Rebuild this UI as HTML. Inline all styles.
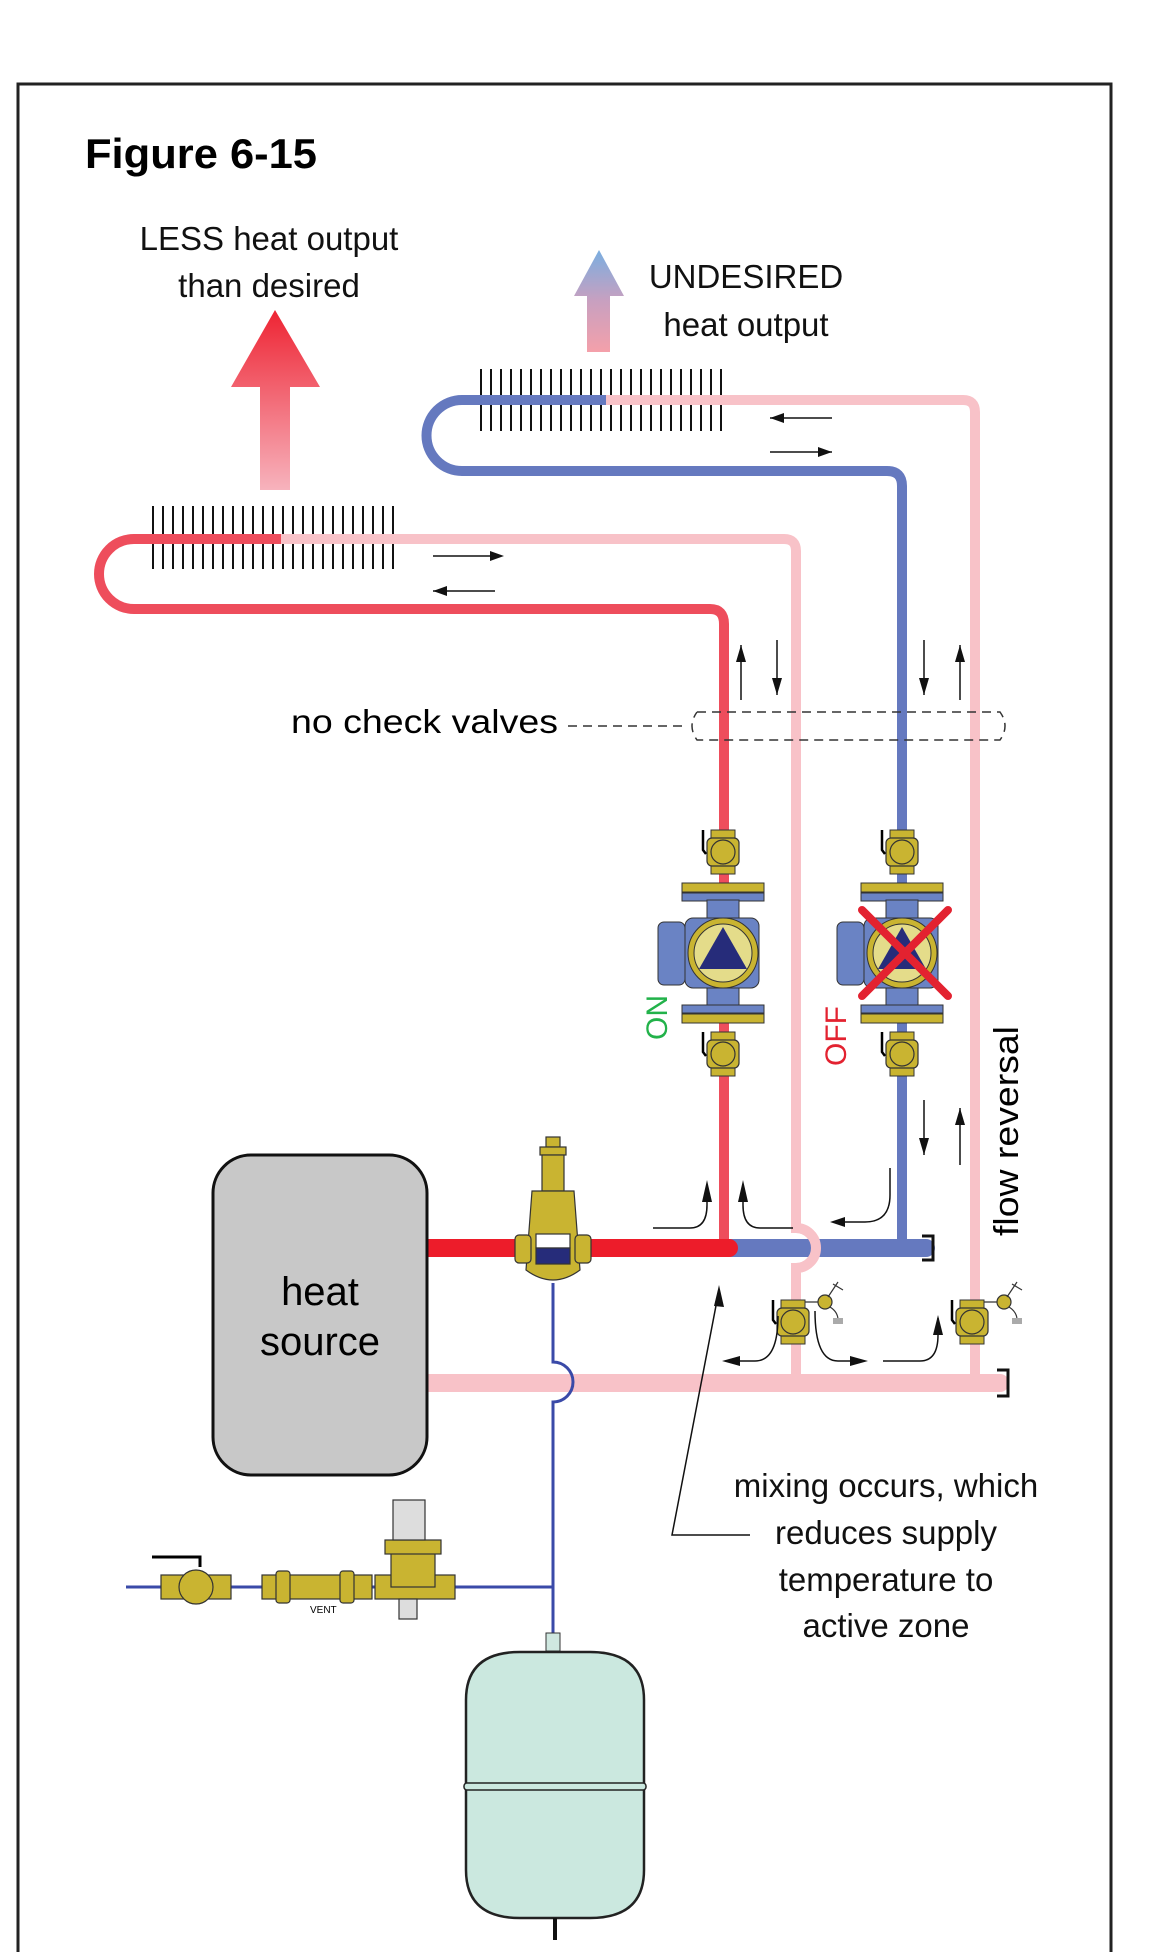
<!DOCTYPE html>
<html><head><meta charset="utf-8"><style>
html,body{margin:0;padding:0;background:#fff}
svg{display:block}
text{font-family:"Liberation Sans",sans-serif}
</style></head><body>
<svg width="1170" height="1952" viewBox="0 0 1170 1952" xmlns="http://www.w3.org/2000/svg">
<defs>
<linearGradient id="gr" x1="0" y1="0" x2="0" y2="1"><stop offset="0" stop-color="#ee2433"/><stop offset="1" stop-color="#f7b3bd"/></linearGradient>
<linearGradient id="gb" x1="0" y1="0" x2="0" y2="1"><stop offset="0" stop-color="#7aaee0"/><stop offset="0.5" stop-color="#c8a0c0"/><stop offset="1" stop-color="#f4a0aa"/></linearGradient>
<g id="bv"><rect x="-12" y="-22" width="24" height="10" fill="#c9b431" stroke="#333" stroke-width="1"/><rect x="-12" y="12" width="24" height="10" fill="#c9b431" stroke="#333" stroke-width="1"/><rect x="-16" y="-14" width="32" height="28" rx="5" fill="#c9b431" stroke="#333" stroke-width="1.2"/><circle r="12" fill="#c9b431" stroke="#333" stroke-width="1.2"/><path d="M-20,-22 V-2 L-17,2" fill="none" stroke="#000" stroke-width="2.5"/></g>
<g id="pump">
<use href="#bv" y="-101"/>
<use href="#bv" y="101"/>
<rect x="-41" y="-70" width="82" height="9" fill="#c9b431" stroke="#333"/>
<rect x="-41" y="-60" width="82" height="8" fill="#6a83c4" stroke="#333"/>
<rect x="-16" y="-53" width="32" height="20" fill="#6a83c4" stroke="#333"/>
<rect x="-16" y="33" width="32" height="20" fill="#6a83c4" stroke="#333"/>
<rect x="-41" y="52" width="82" height="8" fill="#6a83c4" stroke="#333"/>
<rect x="-41" y="61" width="82" height="9" fill="#c9b431" stroke="#333"/>
<rect x="-65" y="-31" width="27" height="63" rx="6" fill="#6a83c4" stroke="#333"/>
<rect x="-38" y="-35" width="74" height="70" rx="8" fill="#6a83c4" stroke="#333"/>
<circle r="35" fill="#c9b431" stroke="#333"/>
<circle r="29" fill="#e4dc8a" stroke="#333"/>
<path d="M0,-26 L24,16 H-24 Z" fill="#262c7a"/>
</g>
</defs>
<rect x="0" y="0" width="1170" height="1952" fill="#fff"/>
<path d="M18,1952 V84 H1111 V1952" fill="none" stroke="#222" stroke-width="3"/>
<text x="85" y="168" font-size="42" font-weight="bold" textLength="232" lengthAdjust="spacingAndGlyphs">Figure 6-15</text>
<g font-size="33" text-anchor="middle" fill="#111">
<text x="269" y="250">LESS heat output</text>
<text x="269" y="297">than desired</text>
<text x="746" y="288">UNDESIRED</text>
<text x="746" y="336">heat output</text>
<text x="886" y="1497">mixing occurs, which</text>
<text x="886" y="1544">reduces supply</text>
<text x="886" y="1591">temperature to</text>
<text x="886" y="1637">active zone</text>
</g>
<text x="291" y="733" font-size="33" textLength="267" lengthAdjust="spacingAndGlyphs">no check valves</text>
<path d="M275,310 L320,387 H290 V490 H260 V387 H231 Z" fill="url(#gr)"/>
<path d="M599,250 L624,296 H610 V352 H587 V296 H574 Z" fill="url(#gb)"/>
<g stroke="#111" stroke-width="2">
<path d="M481,369 V431 M491,369 V431 M501,369 V431 M511,369 V431 M521,369 V431 M531,369 V431 M541,369 V431 M551,369 V431 M561,369 V431 M571,369 V431 M581,369 V431 M591,369 V431 M601,369 V431 M611,369 V431 M621,369 V431 M631,369 V431 M641,369 V431 M651,369 V431 M661,369 V431 M671,369 V431 M681,369 V431 M691,369 V431 M701,369 V431 M711,369 V431 M721,369 V431"/>
<path d="M153,506 V569 M163,506 V569 M173,506 V569 M183,506 V569 M193,506 V569 M203,506 V569 M213,506 V569 M223,506 V569 M233,506 V569 M243,506 V569 M253,506 V569 M263,506 V569 M273,506 V569 M283,506 V569 M293,506 V569 M303,506 V569 M313,506 V569 M323,506 V569 M333,506 V569 M343,506 V569 M353,506 V569 M363,506 V569 M373,506 V569 M383,506 V569 M393,506 V569"/>
</g>
<path d="M606,400 H963 Q975,400 975,412 V1385" fill="none" stroke="#f8c2c8" stroke-width="10"/>
<path d="M606,400 H462 A35,35 0 0 0 462,471 H887 Q902,471 902,486 V1250" fill="none" stroke="#6579bf" stroke-width="10"/>
<path d="M281,539 H784 Q796,539 796,551 V1228 A19,19 0 0 1 796,1268 V1385" fill="none" stroke="#f8c2c8" stroke-width="10"/>
<path d="M281,539 H134 A35,35 0 0 0 134,609 H710 Q724,609 724,624 V1250" fill="none" stroke="#ee4d5c" stroke-width="10"/>
<path d="M729,1248 H926" stroke="#6579bf" stroke-width="18" stroke-linecap="round"/>
<path d="M429,1248 H729" stroke="#ed1c2a" stroke-width="18" stroke-linecap="round"/>
<path d="M796,1228 A19,19 0 0 1 796,1268" fill="none" stroke="#f8c2c8" stroke-width="10"/>
<path d="M429,1383 H1000" stroke="#f8c2c8" stroke-width="18" stroke-linecap="round"/>
<path d="M922,1236 H933 V1260 H922 M997,1370 H1008 V1396 H997" fill="none" stroke="#111" stroke-width="3"/>
<rect x="213" y="1155" width="214" height="320" rx="38" fill="#c8c8c8" stroke="#111" stroke-width="3"/>
<text x="320" y="1305" font-size="40" text-anchor="middle">heat</text>
<text x="320" y="1355" font-size="40" text-anchor="middle">source</text>
<path d="M553,1283 V1362 A20,20 0 0 1 553,1402 V1640 M126,1587 H553" fill="none" stroke="#3a4aa8" stroke-width="3"/>
<g stroke="#333" stroke-width="1.2" fill="#c9b431">
<rect x="546" y="1137" width="14" height="10"/><rect x="540" y="1147" width="26" height="8"/>
<rect x="542" y="1155" width="22" height="36"/>
<path d="M532,1191 H574 L580,1270 Q553,1290 526,1270 Z"/>
<rect x="515" y="1235" width="16" height="28" rx="4"/><rect x="575" y="1235" width="16" height="28" rx="4"/>
<rect x="536" y="1234" width="34" height="14" fill="#fff"/><rect x="536" y="1248" width="34" height="16" fill="#262c7a"/>
</g>
<g stroke="#333" stroke-width="1.2" fill="#c9b431">
<rect x="161" y="1575" width="70" height="24"/><circle cx="196" cy="1587" r="17"/>
<path d="M152,1557 H200 V1567" fill="none" stroke="#000" stroke-width="3"/>
<rect x="262" y="1575" width="110" height="24"/><rect x="276" y="1571" width="14" height="32" rx="3"/><rect x="340" y="1571" width="14" height="32" rx="3"/>
<rect x="375" y="1575" width="80" height="24"/><rect x="391" y="1552" width="44" height="35"/>
<rect x="385" y="1540" width="56" height="14"/>
<rect x="393" y="1500" width="32" height="40" fill="#ddd"/>
<rect x="399" y="1599" width="18" height="20" fill="#ddd"/>
</g>
<text x="310" y="1613" font-size="10">VENT</text>
<rect x="546" y="1633" width="14" height="18" fill="#cfe8e0" stroke="#333"/>
<path d="M466,1700 Q466,1652 520,1652 H590 Q644,1652 644,1700 V1870 Q644,1918 590,1918 H520 Q466,1918 466,1870 Z" fill="#cbe8df" stroke="#222" stroke-width="2.5"/>
<rect x="464" y="1783" width="182" height="7" rx="3" fill="#cbe8df" stroke="#222" stroke-width="1.5"/>
<path d="M555,1918 V1940" stroke="#111" stroke-width="4"/>
<use href="#pump" x="723" y="953"/>
<use href="#pump" x="902" y="953"/>
<path d="M862,910 L948,996 M948,910 L862,996" stroke="#e32230" stroke-width="8" stroke-linecap="round"/>
<text transform="translate(667,1040) rotate(-90)" font-size="30" fill="#22b24a">ON</text>
<text transform="translate(846,1066) rotate(-90)" font-size="30" fill="#e32230">OFF</text>
<text transform="translate(1018,1236) rotate(-90)" font-size="34" textLength="210" lengthAdjust="spacingAndGlyphs">flow reversal</text>
<g><use href="#bv" x="793" y="1322"/><use href="#bv" x="972" y="1322"/>
<g stroke="#333" stroke-width="1.2" fill="#c9b431"><path d="M805,1302 H820 M984,1302 H999" /><circle cx="825" cy="1302" r="7"/><circle cx="1004" cy="1302" r="7"/></g>
<path d="M828,1297 L838,1282 M833,1284 L843,1290 M1007,1297 L1017,1282 M1012,1284 L1022,1290 M830,1307 Q838,1312 838,1320 M1009,1307 Q1017,1312 1017,1320" fill="none" stroke="#333" stroke-width="1.2"/>
<rect x="833" y="1318" width="10" height="6" fill="#aaa"/><rect x="1012" y="1318" width="10" height="6" fill="#aaa"/></g>
<g stroke="#111" stroke-width="1.5" fill="none">
<path d="M433,556 H490 M433,591 H495 M770,418 H832 M770,452 H832"/>
<path d="M741,700 V645 M777,640 V695 M924,640 V695 M960,700 V645"/>
<path d="M924,1100 V1155 M960,1165 V1108"/>
<path d="M653,1228 H690 Q707,1228 707,1205 V1188 M793,1228 H760 Q743,1228 743,1205 V1188"/>
<path d="M890,1168 V1195 Q890,1222 865,1222 H845"/>
<path d="M778,1316 Q778,1361 755,1361 H735 M815,1311 Q815,1361 838,1361 H855 M883,1361 H920 Q938,1361 938,1335 V1318"/>
<path d="M719,1290 L672,1535 H750"/>
</g>
<g fill="#111">
<path d="M490,551 L504,556 L490,561 Z M447,586 L433,591 L447,596 Z M784,413 L770,418 L784,423 Z M818,447 L832,452 L818,457 Z"/>
<path d="M736,662 L741,645 L746,662 Z M772,678 L777,695 L782,678 Z M919,678 L924,695 L929,678 Z M955,662 L960,645 L965,662 Z"/>
<path d="M919,1138 L924,1155 L929,1138 Z M955,1125 L960,1108 L965,1125 Z"/>
<path d="M702,1202 L707,1180 L712,1202 Z M738,1202 L743,1180 L748,1202 Z M845,1217 L830,1222 L845,1227 Z"/>
<path d="M740,1356 L722,1361 L740,1366 Z M850,1356 L868,1361 L850,1366 Z M933,1335 L938,1315 L943,1335 Z"/>
<path d="M714,1306 L719,1285 L724,1307 Z"/>
</g>
<path d="M568,726 H685 M697,712 H1000 Q1010,726 1000,740 H697 Q687,726 697,712" fill="none" stroke="#333" stroke-width="1.5" stroke-dasharray="9,6"/>
</svg>
</body></html>
